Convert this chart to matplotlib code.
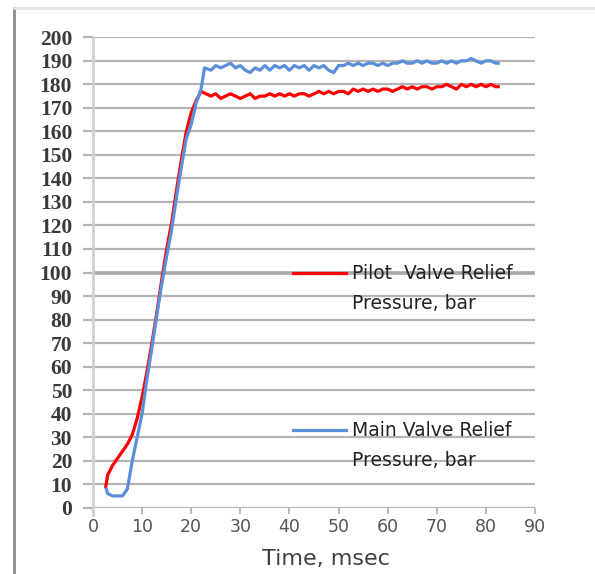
import matplotlib
matplotlib.use("Agg")
import matplotlib.pyplot as plt
from matplotlib.lines import Line2D

# pilot valve relief pressure (red)
pilot_t = [2.6, 3, 4, 5, 6, 7, 8, 9, 10, 11, 12, 13, 14, 15, 16, 17, 18, 19, 20, 21, 22,
           23, 24, 25, 26, 27, 28, 29, 30, 31, 32, 33, 34, 35, 36, 37, 38, 39, 40, 41, 42,
           43, 44, 45, 46, 47, 48, 49, 50, 51, 52, 53, 54, 55, 56, 57, 58, 59, 60, 61, 62,
           63, 64, 65, 66, 67, 68, 69, 70, 71, 72, 73, 74, 75, 76, 77, 78, 79, 80, 81, 82, 82.5]
pilot_p = [9, 14, 18, 21, 24, 27, 31, 38, 47, 58, 70, 83, 97, 110, 121, 135, 148, 160, 168, 173, 177,
           176, 175, 176, 174, 175, 176, 175, 174, 175, 176, 174, 175, 175, 176, 175, 176, 175, 176, 175, 176,
           176, 175, 176, 177, 176, 177, 176, 177, 177, 176, 178, 177, 178, 177, 178, 177, 178, 178, 177, 178,
           179, 178, 179, 178, 179, 179, 178, 179, 179, 180, 179, 178, 180, 179, 180, 179, 180, 179, 180, 179, 179]

# main valve relief pressure (blue)
main_t = [2.7, 3, 4, 5, 6, 7, 8, 9, 10, 11, 12, 13, 14, 15, 16, 17, 18, 19, 20, 21, 22, 22.7,
          24, 25, 26, 27, 28, 29, 30, 31, 32, 33, 34, 35, 36, 37, 38, 39, 40, 41, 42,
          43, 44, 45, 46, 47, 48, 49, 50, 51, 52, 53, 54, 55, 56, 57, 58, 59, 60, 61, 62,
          63, 64, 65, 66, 67, 68, 69, 70, 71, 72, 73, 74, 75, 76, 77, 78, 79, 80, 81, 82, 82.5]
main_p = [8, 6, 5, 5, 5, 8, 20, 30, 40, 55, 68, 82, 95, 107, 118, 132, 145, 157, 163, 172, 178, 187,
          186, 188, 187, 188, 189, 187, 188, 186, 185, 187, 186, 188, 186, 188, 187, 188, 186, 188, 187,
          188, 186, 188, 187, 188, 186, 185, 188, 188, 189, 188, 189, 188, 189, 189, 188, 189, 188, 189, 189,
          190, 189, 189, 190, 189, 190, 189, 189, 190, 189, 190, 189, 190, 190, 191, 190, 189, 190, 190, 189, 189]

y_ticks = list(range(0, 201, 10))
x_ticks = list(range(0, 91, 10))

fig = plt.figure(figsize=(5.95, 5.74), dpi=100)
ax = fig.add_axes([0.1563, 0.1155, 0.7429, 0.8195])

grid_c = "#b4b4b4"
for v in y_ticks:
    lw = 2.6 if v == 100 else 1.6
    c = "#a8a8a8" if v == 100 else grid_c
    ax.axhline(v, color=c, lw=lw, zorder=1)

ax.plot(pilot_t, pilot_p, color="#ff0000", lw=2.3, zorder=3)
ax.plot(main_t, main_p, color="#5b8fd9", lw=2.3, zorder=4)

ax.set_xlim(0, 90)
ax.set_ylim(0, 200)
ax.set_xticks(x_ticks)
ax.set_yticks(y_ticks)

for s in ["top", "right", "bottom"]:
    ax.spines[s].set_visible(False)
ax.spines["left"].set_color("#d0d0d0")
ax.spines["left"].set_linewidth(2)
ax.spines["left"].set_bounds(-3, 200)

ax.tick_params(axis="y", direction="out", length=7, width=1.6, color=grid_c,
               pad=8, labelsize=15.5, labelcolor="#3a3a3a")
ax.tick_params(axis="x", direction="out", length=4.5, width=1.3, color=grid_c,
               pad=3, labelsize=12.5, labelcolor="#555555")
for lab in ax.get_yticklabels():
    lab.set_family("Liberation Serif")
    lab.set_fontweight("bold")

ax.set_xlabel("Time, msec", fontsize=16, color="#404040")
ax.xaxis.label.set_va("center")
ax.xaxis.set_label_coords(0.527, -0.108)

# legend entries placed inside the plot
leg_items = [("#ff0000", "Pilot  Valve Relief", 0.498), ("#5b8fd9", "Main Valve Relief", 0.165)]
for c, txt, yy in leg_items:
    ax.add_line(Line2D([0.452, 0.572], [yy, yy], color=c, lw=2.3,
                       transform=ax.transAxes, zorder=5))
    ax.text(0.585, yy, txt, transform=ax.transAxes, fontsize=13.5, color="#222222",
            va="center", ha="left", zorder=6)
    ax.text(0.585, yy - 0.064, "Pressure, bar", transform=ax.transAxes, fontsize=13.5,
            color="#222222", va="center", ha="left", zorder=6)

# outer frame
fig.add_artist(Line2D([14 / 595, 14 / 595], [0, 1 - 8 / 574], color="#8c8c8c", lw=2))
fig.add_artist(Line2D([14 / 595, 1], [1 - 8 / 574, 1 - 8 / 574], color="#e2e2e2", lw=2))

fig.savefig("out.png", dpi=100)
